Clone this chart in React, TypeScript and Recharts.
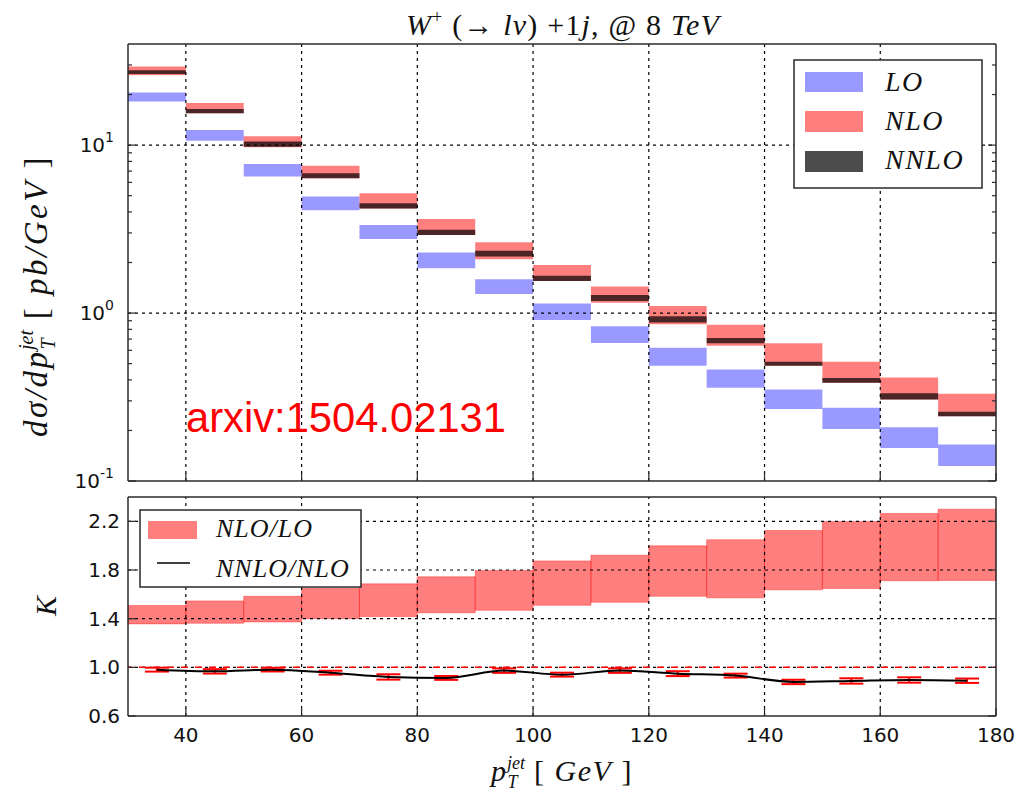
import React from "react";
import {
  ComposedChart,
  XAxis,
  YAxis,
  ReferenceArea,
  ReferenceLine,
  Line,
  ErrorBar,
} from "recharts";

// bin edges in pT (GeV)
const binEdges = [30, 40, 50, 60, 70, 80, 90, 100, 110, 120, 130, 140, 150, 160, 170, 180];

// dsigma/dpT bands [pb/GeV]
const loLow = [18.2, 10.6, 6.51, 4.09, 2.76, 1.85, 1.3, 0.908, 0.663, 0.485, 0.359, 0.268, 0.204, 0.157, 0.123];
const loHigh = [20.6, 12.3, 7.71, 4.95, 3.34, 2.29, 1.59, 1.14, 0.834, 0.621, 0.462, 0.351, 0.273, 0.209, 0.165];
const nloLow = [26.1, 15.5, 9.7, 6.34, 4.2, 2.92, 2.09, 1.55, 1.15, 0.857, 0.638, 0.485, 0.385, 0.306, 0.243];
const nloHigh = [29.4, 17.8, 11.3, 7.53, 5.16, 3.63, 2.64, 1.93, 1.44, 1.1, 0.852, 0.661, 0.513, 0.414, 0.331];
const nnloLow = [26.5, 15.5, 9.77, 6.34, 4.2, 2.92, 2.17, 1.55, 1.18, 0.88, 0.66, 0.485, 0.385, 0.306, 0.243];
const nnloHigh = [27.9, 16.4, 10.5, 6.81, 4.5, 3.13, 2.35, 1.67, 1.28, 0.956, 0.71, 0.513, 0.41, 0.333, 0.258];

// K = NLO/LO band
const kLow = [1.357, 1.362, 1.373, 1.4, 1.417, 1.448, 1.469, 1.51, 1.535, 1.584, 1.571, 1.637, 1.648, 1.711, 1.714];
const kHigh = [1.508, 1.546, 1.584, 1.648, 1.686, 1.744, 1.796, 1.875, 1.922, 1.999, 2.049, 2.125, 2.199, 2.265, 2.3];

// NNLO/NLO at bin centres
const ratioX = [35, 45, 55, 65, 75, 85, 95, 105, 115, 125, 135, 145, 155, 165, 175];
const ratioY = [0.981, 0.967, 0.981, 0.956, 0.921, 0.913, 0.973, 0.94, 0.973, 0.948, 0.932, 0.88, 0.888, 0.896, 0.89];
const ratioErr = [0.016, 0.018, 0.015, 0.016, 0.022, 0.016, 0.018, 0.016, 0.018, 0.02, 0.016, 0.018, 0.022, 0.022, 0.018];

const xTicks = [40, 60, 80, 100, 120, 140, 160, 180];
const xGrid = [40, 60, 80, 100, 120, 140, 160];
const logMajor = [0.1, 1, 10];
const logTicks = [0.1, 0.2, 0.3, 0.4, 0.5, 0.6, 0.7, 0.8, 0.9, 1, 2, 3, 4, 5, 6, 7, 8, 9, 10, 20, 30];
const kTicks = [0.6, 1.0, 1.4, 1.8, 2.2];
const kGrid = [1.0, 1.4, 1.8, 2.2];

const bins = binEdges.slice(0, -1).map((lo, i) => ({
  lo,
  hi: binEdges[i + 1],
  loLow: loLow[i],
  loHigh: loHigh[i],
  nloLow: nloLow[i],
  nloHigh: nloHigh[i],
  nnloLow: nnloLow[i],
  nnloHigh: nnloHigh[i],
  kLow: kLow[i],
  kHigh: kHigh[i],
}));

const ratio = ratioX.map((x, i) => ({ x, r: ratioY[i], err: ratioErr[i] }));

const FRAME = "#2a2a2a";
const TICK_FONT = "'DejaVu Sans', sans-serif";
const MATH_FONT = "'Liberation Serif', 'DejaVu Serif', serif";
const BLUE = "#0000ff";
const RED = "#ff0000";
const axisLine = { stroke: FRAME, strokeWidth: 1.5 };

type TickProps = { x: number; y: number; payload: { value: number } };

function isMajor(v: number) {
  return logMajor.some((m) => Math.abs(m - v) < 1e-9);
}

function LogLeftTick({ x, y, payload }: TickProps) {
  const v = payload.value;
  const major = isMajor(v);
  return (
    <g>
      <line x1={x} y1={y} x2={x + (major ? 8 : 4)} y2={y} stroke={FRAME} strokeWidth={1.2} />
      {major && (
        <text x={x - 14} y={y + 7} textAnchor="end" fontFamily={TICK_FONT} fontSize={20} fill="#111">
          10
          <tspan dy={-10} fontSize={14}>
            {Math.round(Math.log10(v))}
          </tspan>
        </text>
      )}
    </g>
  );
}

function LogRightTick({ x, y, payload }: TickProps) {
  const major = isMajor(payload.value);
  return <line x1={x} y1={y} x2={x - (major ? 8 : 4)} y2={y} stroke={FRAME} strokeWidth={1.2} />;
}

function KLeftTick({ x, y, payload }: TickProps) {
  return (
    <g>
      <line x1={x} y1={y} x2={x + 8} y2={y} stroke={FRAME} strokeWidth={1.2} />
      <text x={x - 8} y={y + 7} textAnchor="end" fontFamily={TICK_FONT} fontSize={20} fill="#111">
        {payload.value.toFixed(1)}
      </text>
    </g>
  );
}

function KRightTick({ x, y }: TickProps) {
  return <line x1={x} y1={y} x2={x - 8} y2={y} stroke={FRAME} strokeWidth={1.2} />;
}

function BottomTick({ x, y }: TickProps) {
  return <line x1={x} y1={y} x2={x} y2={y - 8} stroke={FRAME} strokeWidth={1.2} />;
}

function BottomLabelTick({ x, y, payload }: TickProps) {
  return (
    <g>
      <line x1={x} y1={y} x2={x} y2={y - 8} stroke={FRAME} strokeWidth={1.2} />
      <text x={x} y={y + 26} textAnchor="middle" fontFamily={TICK_FONT} fontSize={20} fill="#111">
        {payload.value}
      </text>
    </g>
  );
}

function TopTick({ x, y }: TickProps) {
  return <line x1={x} y1={y} x2={x} y2={y + 8} stroke={FRAME} strokeWidth={1.2} />;
}

const gridStyle = { stroke: "#000", strokeDasharray: "3 4", strokeWidth: 1.2 };

function SpectrumPanel() {
  return (
    <ComposedChart width={1034} height={500} data={bins} margin={{ top: 40, right: 28, bottom: 15, left: 28 }}>
      <XAxis
        type="number"
        dataKey="lo"
        domain={[30, 180]}
        ticks={xTicks}
        interval={0}
        allowDataOverflow
        height={4}
        tickSize={0}
        tickMargin={0}
        tick={BottomTick}
        axisLine={axisLine}
      />
      <XAxis
        xAxisId="top"
        orientation="top"
        type="number"
        domain={[30, 180]}
        ticks={xTicks}
        interval={0}
        allowDataOverflow
        height={4}
        tickSize={0}
        tickMargin={0}
        tick={TopTick}
        axisLine={axisLine}
      />
      <YAxis
        type="number"
        scale="log"
        domain={[0.1, 40]}
        ticks={logTicks}
        interval={0}
        allowDataOverflow
        width={100}
        tickSize={0}
        tickMargin={0}
        tick={LogLeftTick}
        axisLine={axisLine}
      />
      <YAxis
        yAxisId="right"
        orientation="right"
        type="number"
        scale="log"
        domain={[0.1, 40]}
        ticks={logTicks}
        interval={0}
        allowDataOverflow
        width={10}
        tickSize={0}
        tickMargin={0}
        tick={LogRightTick}
        axisLine={axisLine}
      />
      {xGrid.map((v) => (
        <ReferenceLine key={`vx${v}`} x={v} {...gridStyle} />
      ))}
      {[1, 10].map((v) => (
        <ReferenceLine key={`hy${v}`} y={v} {...gridStyle} />
      ))}
      {bins.map((b) => (
        <ReferenceArea key={`lo${b.lo}`} x1={b.lo} x2={b.hi} y1={b.loLow} y2={b.loHigh} fill={BLUE} fillOpacity={0.4} stroke="none" />
      ))}
      {bins.map((b) => (
        <ReferenceArea key={`nlo${b.lo}`} x1={b.lo} x2={b.hi} y1={b.nloLow} y2={b.nloHigh} fill={RED} fillOpacity={0.5} stroke="none" />
      ))}
      {bins.map((b) => (
        <ReferenceArea key={`nnlo${b.lo}`} x1={b.lo} x2={b.hi} y1={b.nnloLow} y2={b.nnloHigh} fill="#000" fillOpacity={0.7} stroke="none" />
      ))}
    </ComposedChart>
  );
}

function RatioPanel() {
  return (
    <ComposedChart width={1034} height={306} data={ratio} margin={{ top: 5, right: 28, bottom: 40, left: 28 }}>
      <XAxis
        type="number"
        dataKey="x"
        domain={[30, 180]}
        ticks={xTicks}
        interval={0}
        allowDataOverflow
        height={40}
        tickSize={0}
        tickMargin={0}
        tick={BottomLabelTick}
        axisLine={axisLine}
      />
      <XAxis
        xAxisId="top"
        orientation="top"
        type="number"
        domain={[30, 180]}
        ticks={xTicks}
        interval={0}
        allowDataOverflow
        height={2}
        tickSize={0}
        tickMargin={0}
        tick={TopTick}
        axisLine={axisLine}
      />
      <YAxis
        type="number"
        domain={[0.6, 2.4]}
        ticks={kTicks}
        interval={0}
        allowDataOverflow
        width={100}
        tickSize={0}
        tickMargin={0}
        tick={KLeftTick}
        axisLine={axisLine}
      />
      <YAxis
        yAxisId="right"
        orientation="right"
        type="number"
        domain={[0.6, 2.4]}
        ticks={kTicks}
        interval={0}
        allowDataOverflow
        width={10}
        tickSize={0}
        tickMargin={0}
        tick={KRightTick}
        axisLine={axisLine}
      />
      {xGrid.map((v) => (
        <ReferenceLine key={`vx${v}`} x={v} {...gridStyle} />
      ))}
      {kGrid.map((v) => (
        <ReferenceLine key={`hy${v}`} y={v} {...gridStyle} />
      ))}
      <ReferenceLine y={1} stroke={RED} strokeDasharray="7 7" strokeDashoffset={3} strokeWidth={1.5} />
      {bins.map((b) => (
        <ReferenceArea
          key={`k${b.lo}`}
          x1={b.lo}
          x2={b.hi}
          y1={b.kLow}
          y2={b.kHigh}
          fill={RED}
          fillOpacity={0.5}
          stroke={RED}
          strokeOpacity={0.35}
        />
      ))}
      <Line
        dataKey="r"
        type="monotone"
        stroke="#000"
        strokeWidth={2}
        dot={false}
        isAnimationActive={false}
      >
        <ErrorBar dataKey="err" direction="y" width={12} stroke={RED} strokeWidth={2} isAnimationActive={false} />
      </Line>
    </ComposedChart>
  );
}

function Overlay() {
  return (
    <svg width={1034} height={796} style={{ position: "absolute", left: 0, top: 0, pointerEvents: "none" }}>
      {/* title */}
      <text x={563} y={35} textAnchor="middle" fontFamily={MATH_FONT} fontSize={30} letterSpacing={1.2} fill="#111">
        <tspan fontStyle="italic">W</tspan>
        <tspan dy={-12} fontSize={18}>+</tspan>
        <tspan dy={12}> (→ </tspan>
        <tspan fontStyle="italic">lν</tspan>
        <tspan>) +1</tspan>
        <tspan fontStyle="italic">j</tspan>
        <tspan>, @ 8 </tspan>
        <tspan fontStyle="italic">TeV</tspan>
      </text>

      {/* y label, upper panel */}
      <text
        transform="translate(47,296) rotate(-90)"
        textAnchor="middle"
        fontFamily={MATH_FONT}
        fontSize={33}
        letterSpacing={2.5}
        fill="#111"
      >
        <tspan fontStyle="italic">dσ/dp</tspan>
        <tspan dy={8} fontSize={20} fontStyle="italic">T</tspan>
        <tspan dx={-14} dy={-22} fontSize={20} fontStyle="italic" letterSpacing={0}>jet</tspan>
        <tspan dy={14}>  [ </tspan>
        <tspan fontStyle="italic">pb/GeV</tspan>
        <tspan> ]</tspan>
      </text>

      {/* y label, lower panel */}
      <text transform="translate(56,606) rotate(-90)" textAnchor="middle" fontFamily={MATH_FONT} fontSize={30} fontStyle="italic" fill="#111">
        K
      </text>

      {/* x label */}
      <text x={562} y={781} textAnchor="middle" fontFamily={MATH_FONT} fontSize={30} letterSpacing={1.5} fill="#111">
        <tspan fontStyle="italic">p</tspan>
        <tspan dy={7} fontSize={18} fontStyle="italic">T</tspan>
        <tspan dx={-12} dy={-19} fontSize={18} fontStyle="italic" letterSpacing={0}>jet</tspan>
        <tspan dy={12}> [ </tspan>
        <tspan fontStyle="italic">GeV</tspan>
        <tspan> ]</tspan>
      </text>

      {/* legend, upper panel */}
      <rect x={794} y={60} width={188} height={128} fill="#fff" stroke={FRAME} strokeWidth={1.5} />
      <rect x={805} y={72} width={58} height={20} fill={BLUE} fillOpacity={0.4} />
      <rect x={805} y={111} width={58} height={21} fill={RED} fillOpacity={0.5} />
      <rect x={805} y={151} width={58} height={21} fill="#000" fillOpacity={0.7} />
      <g fontFamily={MATH_FONT} fontSize={28} fontStyle="italic" letterSpacing={1.5} fill="#111">
        <text x={885} y={91}>LO</text>
        <text x={885} y={130}>NLO</text>
        <text x={885} y={169}>NNLO</text>
      </g>

      {/* legend, lower panel */}
      <rect x={140} y={510} width={221} height={77} fill="#fff" stroke={FRAME} strokeWidth={1.5} />
      <rect x={148} y={521} width={49} height={18} fill={RED} fillOpacity={0.5} />
      <line x1={157} y1={563} x2={190} y2={563} stroke="#000" strokeWidth={1.5} />
      <g fontFamily={MATH_FONT} fontSize={26} fontStyle="italic" letterSpacing={1} fill="#111">
        <text x={216} y={537}>NLO/LO</text>
        <text x={216} y={577}>NNLO/NLO</text>
      </g>

      {/* reference stamp */}
      <text x={186} y={432} fontFamily="'Liberation Sans', Arial, sans-serif" fontSize={42} fill="#ff0000" textLength={320} lengthAdjust="spacingAndGlyphs">
        arxiv:1504.02131
      </text>
    </svg>
  );
}

export default function App() {
  return (
    <div style={{ position: "absolute", left: 0, top: 0, width: 1034, height: 796, background: "#fff" }}>
      <div style={{ position: "absolute", left: 0, top: 0 }}>
        <SpectrumPanel />
      </div>
      <div style={{ position: "absolute", left: 0, top: 490 }}>
        <RatioPanel />
      </div>
      <Overlay />
    </div>
  );
}
